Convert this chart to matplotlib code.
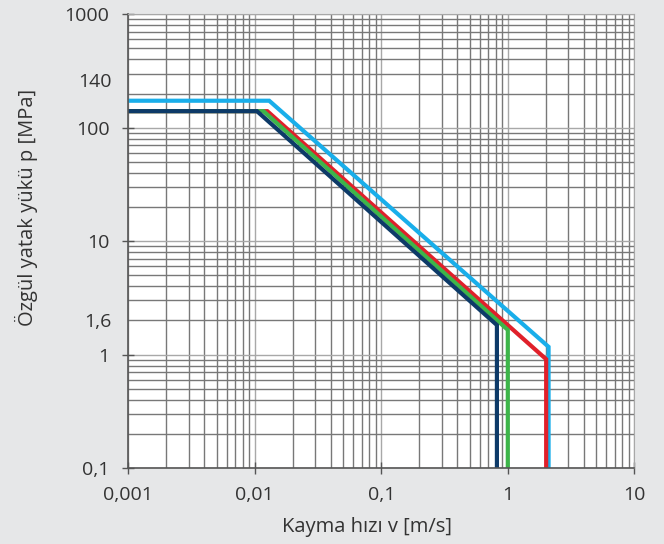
import numpy as np
import matplotlib
matplotlib.use('Agg')
import matplotlib.pyplot as plt
from matplotlib.ticker import FixedLocator, NullFormatter
import matplotlib.transforms as mtransforms

# corner points (v in m/s, p in MPa)
v_navy = [0.001, 0.0104, 0.82, 0.82]
p_navy = [140, 140, 1.82, 0.1]
v_green = [0.001, 0.0117, 1.0, 1.0]
p_green = [140, 140, 1.65, 0.1]
v_red = [0.001, 0.01256, 2.01, 2.01]
p_red = [140, 140, 0.91, 0.1]
v_lblue = [0.001, 0.013, 2.1, 2.1]
p_lblue = [173, 173, 1.17, 0.1]

xticks = [0.001, 0.01, 0.1, 1, 10]
xlabels = ['0,001', '0,01', '0,1', '1', '10']
yticks = [0.1, 1, 10, 100, 1000]
ylabels = ['0,1', '1', '10', '100', '1000']
# extra labels without tick marks, placed as in the picture
extra_pos = [1.95, 253]
extra_labels = ['1,6', '140']

plt.rcParams['font.family'] = ['Open Sans', 'DejaVu Sans']
bg = '#e6e7e8'
txt = '#333333'
fs = 14

fig = plt.figure(figsize=(6.64, 5.44), dpi=100, facecolor=bg)
ax = fig.add_axes([0.1932, 0.1397, 0.9553 - 0.1932, 0.9737 - 0.1397])
ax.set_xscale('log')
ax.set_yscale('log')
ax.set_xlim(0.001, 10)
ax.set_ylim(0.1, 1000)

minors = [m * 10.0 ** e for e in range(-4, 4) for m in range(2, 10)]
ax.xaxis.set_major_locator(FixedLocator(xticks))
ax.xaxis.set_minor_locator(FixedLocator(minors))
ax.yaxis.set_major_locator(FixedLocator(yticks))
ax.yaxis.set_minor_locator(FixedLocator(minors))
ax.set_xticklabels(xlabels)
ax.set_yticklabels(ylabels)
ax.xaxis.set_minor_formatter(NullFormatter())
ax.yaxis.set_minor_formatter(NullFormatter())

ax.grid(True, which='major', color='#a8a8a8', lw=1.0)
ax.grid(True, which='minor', color='#787878', lw=1.0)
ax.set_axisbelow(True)

ax.tick_params(which='major', direction='inout', length=8, width=1,
               color='#555555', labelsize=fs, labelcolor=txt)
ax.tick_params(axis='x', which='major', pad=9)
ax.tick_params(axis='y', which='major', pad=9.5)
ax.tick_params(which='minor', length=0)
for s in ['top', 'right']:
    ax.spines[s].set_color('#a8a8a8')
for s in ['left', 'bottom']:
    ax.spines[s].set_color('#555555')
    ax.spines[s].set_linewidth(1.2)

trans = mtransforms.blended_transform_factory(ax.transAxes, ax.transData)
for pos, lab in zip(extra_pos, extra_labels):
    ax.text(-0.033, pos, lab, transform=trans, ha='right', va='center',
            fontsize=fs, color=txt)

lw = 3.0
ax.plot(v_lblue, p_lblue, color='#19aeea', lw=lw, solid_joinstyle='miter')
ax.plot(v_red, p_red, color='#e0202a', lw=lw, solid_joinstyle='miter')
ax.plot(v_green, p_green, color='#3db549', lw=lw, solid_joinstyle='miter')
ax.plot(v_navy, p_navy, color='#0d3a68', lw=lw, solid_joinstyle='miter')

ax.set_xlabel('Kayma hızı v [m/s]', fontsize=14.5, color=txt, va='center')
ax.set_ylabel('Özgül yatak yükü p [MPa]', fontsize=14.5, color=txt, va='center')
ax.xaxis.set_label_coords(0.472, -0.130)
ax.yaxis.set_label_coords(-0.202, 0.575)

fig.savefig('out.png', dpi=100, facecolor=bg)
